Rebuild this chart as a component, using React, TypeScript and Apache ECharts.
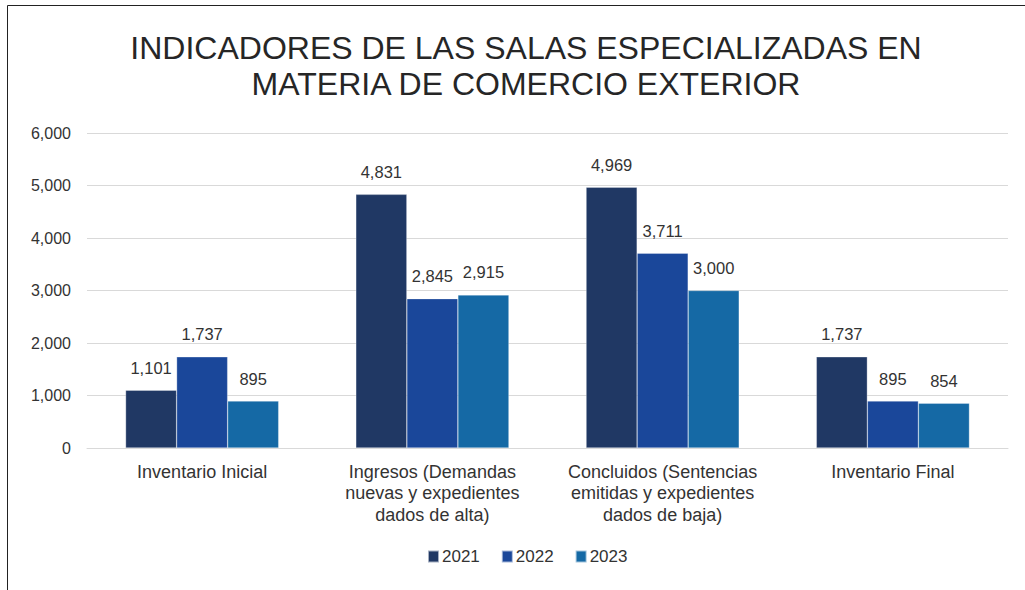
import React, { useEffect, useRef } from "react";
import * as echarts from "echarts";

const title = "INDICADORES DE LAS SALAS ESPECIALIZADAS EN\nMATERIA DE COMERCIO EXTERIOR";
const categories = [
  "Inventario Inicial",
  "Ingresos (Demandas\nnuevas y expedientes\ndados de alta)",
  "Concluidos (Sentencias\nemitidas y expedientes\ndados de baja)",
  "Inventario Final",
];
const seriesNames = ["2021", "2022", "2023"];
const values2021 = [1101, 4831, 4969, 1737];
const values2022 = [1737, 2845, 3711, 895];
const values2023 = [895, 2915, 3000, 854];
const colors = ["#203864", "#1a479a", "#1569a5"];
const yTicks = { min: 0, max: 6000, interval: 1000 };

export default function App() {
  const ref = useRef<HTMLDivElement>(null);
  useEffect(() => {
    document.body.style.margin = "0";
    const chart = echarts.init(ref.current!, null, { renderer: "svg" });
    const font = "'Liberation Sans', Arial, sans-serif";
    const data = [values2021, values2022, values2023];
    chart.setOption({
      animation: false,
      backgroundColor: "#ffffff",
      textStyle: { fontFamily: font },
      title: {
        text: title,
        left: 521,
        textAlign: "center",
        top: 25,
        textStyle: { fontFamily: font, fontSize: 32, fontWeight: "normal", color: "#262626", lineHeight: 36 },
      },
      graphic: [
        { type: "line", shape: { x1: 7.5, y1: 5.5, x2: 1025, y2: 5.5 }, style: { stroke: "#222", lineWidth: 1 } },
        { type: "line", shape: { x1: 7.5, y1: 5.5, x2: 7.5, y2: 590 }, style: { stroke: "#222", lineWidth: 1 } },
      ],
      legend: {
        bottom: 20,
        left: 422,
        itemWidth: 11,
        itemHeight: 12,
        itemGap: 21,
        icon: "rect",
        textStyle: { fontFamily: font, fontSize: 17, color: "#333", padding: [0, 0, 0, -2] },
        data: seriesNames,
      },
      grid: { left: 87, right: 17, top: 133, bottom: 142 },
      xAxis: {
        type: "category",
        data: categories,
        axisLine: { show: true, lineStyle: { color: "#d9d9d9" } },
        axisTick: { show: false },
        axisLabel: { fontFamily: font, fontSize: 18, color: "#333", margin: 13, lineHeight: 21.5, interval: 0 },
      },
      yAxis: {
        type: "value",
        min: yTicks.min,
        max: yTicks.max,
        interval: yTicks.interval,
        axisLine: { show: false },
        axisTick: { show: false },
        splitLine: { lineStyle: { color: "#d9d9d9" } },
        axisLabel: {
          fontFamily: font,
          fontSize: 16,
          color: "#333",
          margin: 16,
          formatter: (v: number) => v.toLocaleString("en-US"),
        },
      },
      series: seriesNames.map((name, i) => ({
        name,
        type: "bar",
        data: data[i],
        barGap: "0%",
        barCategoryGap: "33.5%",
        itemStyle: { color: colors[i], borderColor: "rgba(255,255,255,0.6)", borderWidth: 0.5 },
        label: {
          show: true,
          position: "top",
          distance: 14,
          fontFamily: font,
          fontSize: 16.5,
          color: "#333",
          formatter: (p: any) => Number(p.value).toLocaleString("en-US"),
        },
      })),
    });
    return () => chart.dispose();
  }, []);
  return <div ref={ref} style={{ width: 1025, height: 590 }} />;
}
